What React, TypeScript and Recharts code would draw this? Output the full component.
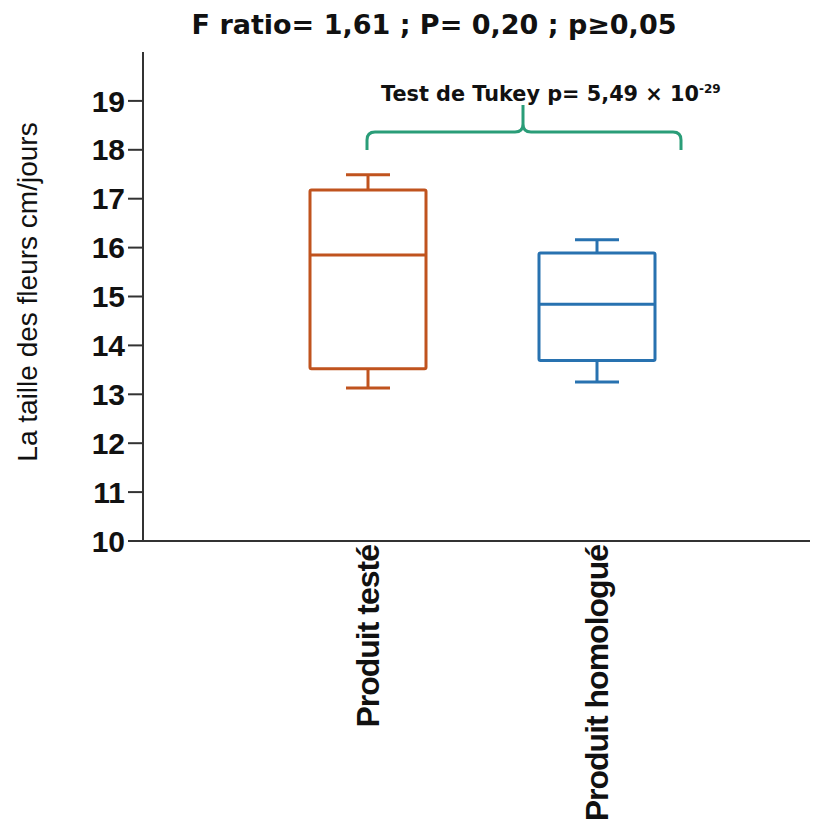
import React from 'react';
import { ComposedChart, Bar, XAxis, YAxis } from 'recharts';

const categories = ['Produit testé', 'Produit homologué'];
const minVals = [13.13, 13.25];
const q1Vals = [13.52, 13.69];
const medianVals = [15.85, 14.84];
const q3Vals = [17.18, 15.89];
const maxVals = [17.49, 16.16];
const boxColors = ['#C0531E', '#2872B0'];
const yTicks = [10, 11, 12, 13, 14, 15, 16, 17, 18, 19];

const titleText = 'F ratio= 1,61 ; P= 0,20 ; p≥0,05';
const tukeyText = 'Test de Tukey p= 5,49 × 10';
const tukeyExp = '-29';
const yLabel = 'La taille des fleurs  cm/jours';

const data = categories.map((name, i) => ({
  name,
  min: minVals[i],
  q1: q1Vals[i],
  median: medianVals[i],
  q3: q3Vals[i],
  max: maxVals[i],
  color: boxColors[i],
  range: [minVals[i], maxVals[i]],
}));

const BoxShape = (props: any) => {
  const { x, y, width, height, payload } = props;
  if (!payload) return null;
  const top = Math.min(y, y + height);
  const h = Math.abs(height);
  const { min, q1, median, q3, max, color } = payload;
  const k = h / (max - min);
  const yOf = (v: number) => top + (max - v) * k;
  const cx = x + width / 2;
  const capW = 44;
  const sw = 3;
  return (
    <g stroke={color} strokeWidth={sw} fill="none" strokeLinejoin="round">
      <line x1={cx} x2={cx} y1={yOf(max)} y2={yOf(q3)} />
      <line x1={cx - capW / 2} x2={cx + capW / 2} y1={yOf(max)} y2={yOf(max)} />
      <rect x={x} y={yOf(q3)} width={width} height={yOf(q1) - yOf(q3)} rx={1.5} />
      <line x1={x} x2={x + width} y1={yOf(median)} y2={yOf(median)} />
      <line x1={cx} x2={cx} y1={yOf(q1)} y2={yOf(min)} />
      <line x1={cx - capW / 2} x2={cx + capW / 2} y1={yOf(min)} y2={yOf(min)} />
    </g>
  );
};

const XTick = (props: any) => {
  const { x, payload } = props;
  const y = 545;
  return (
    <text
      x={x}
      y={y}
      transform={`rotate(-90, ${x}, ${y})`}
      textAnchor="end"
      dominantBaseline="central"
      fontFamily="'Liberation Sans', Arial, sans-serif"
      fontWeight="bold"
      fontSize={32}
      letterSpacing={-1}
      fill="#111"
    >
      {payload.value}
    </text>
  );
};

export default function App() {
  return (
    <div style={{ position: 'absolute', left: 0, top: 0, width: 813, height: 825, background: '#fff' }}>
      <ComposedChart
        width={813}
        height={825}
        data={data}
        margin={{ top: 52, right: 3, bottom: 0, left: 0 }}
      >
        <XAxis
          dataKey="name"
          type="category"
          interval={0}
          padding={{ left: 110, right: 99 }}
          height={284}
          tickLine={false}
          axisLine={{ stroke: '#333', strokeWidth: 2 }}
          tick={<XTick />}
        />
        <YAxis
          type="number"
          domain={[10, 20]}
          ticks={yTicks}
          interval={0}
          width={143}
          tickSize={15}
          tickMargin={3}
          allowDataOverflow
          axisLine={{ stroke: '#333', strokeWidth: 2 }}
          tickLine={{ stroke: '#333', strokeWidth: 2 }}
          tick={{ fill: '#111', fontSize: 30, fontWeight: 'bold', fontFamily: "'Liberation Sans', Arial, sans-serif" }}
        />
        <Bar
          dataKey="range"
          barSize={116}
          fill="none"
          shape={<BoxShape />}
          isAnimationActive={false}
        />
      </ComposedChart>
      <svg
        width={813}
        height={825}
        style={{ position: 'absolute', left: 0, top: 0, pointerEvents: 'none' }}
      >
        <text
          x={434}
          y={34}
          textAnchor="middle"
          fontFamily="'DejaVu Sans', Verdana, sans-serif"
          fontWeight="bold"
          fontSize={27}
          fill="#111"
        >
          {titleText}
        </text>
        <text
          x={381}
          y={101}
          fontFamily="'DejaVu Sans', Verdana, sans-serif"
          fontWeight="bold"
          fontSize={20.8}
          fill="#111"
        >
          {tukeyText}
          <tspan dy={-8} fontSize={12}>{tukeyExp}</tspan>
        </text>
        <path
          d="M367,150 L367,140 Q367,132 375,132 L515,132 Q523,132 523,124 L523,105 M523,124 Q523,132 531,132 L673,132 Q681,132 681,140 L681,150"
          stroke="#2A9D78"
          strokeWidth={3}
          fill="none"
        />
        <text
          x={27}
          y={292}
          transform="rotate(-90, 27, 292)"
          textAnchor="middle"
          dominantBaseline="central"
          fontFamily="'Liberation Sans', Arial, sans-serif"
          fontSize={28}
          fill="#111"
        >
          {yLabel}
        </text>
      </svg>
    </div>
  );
}
